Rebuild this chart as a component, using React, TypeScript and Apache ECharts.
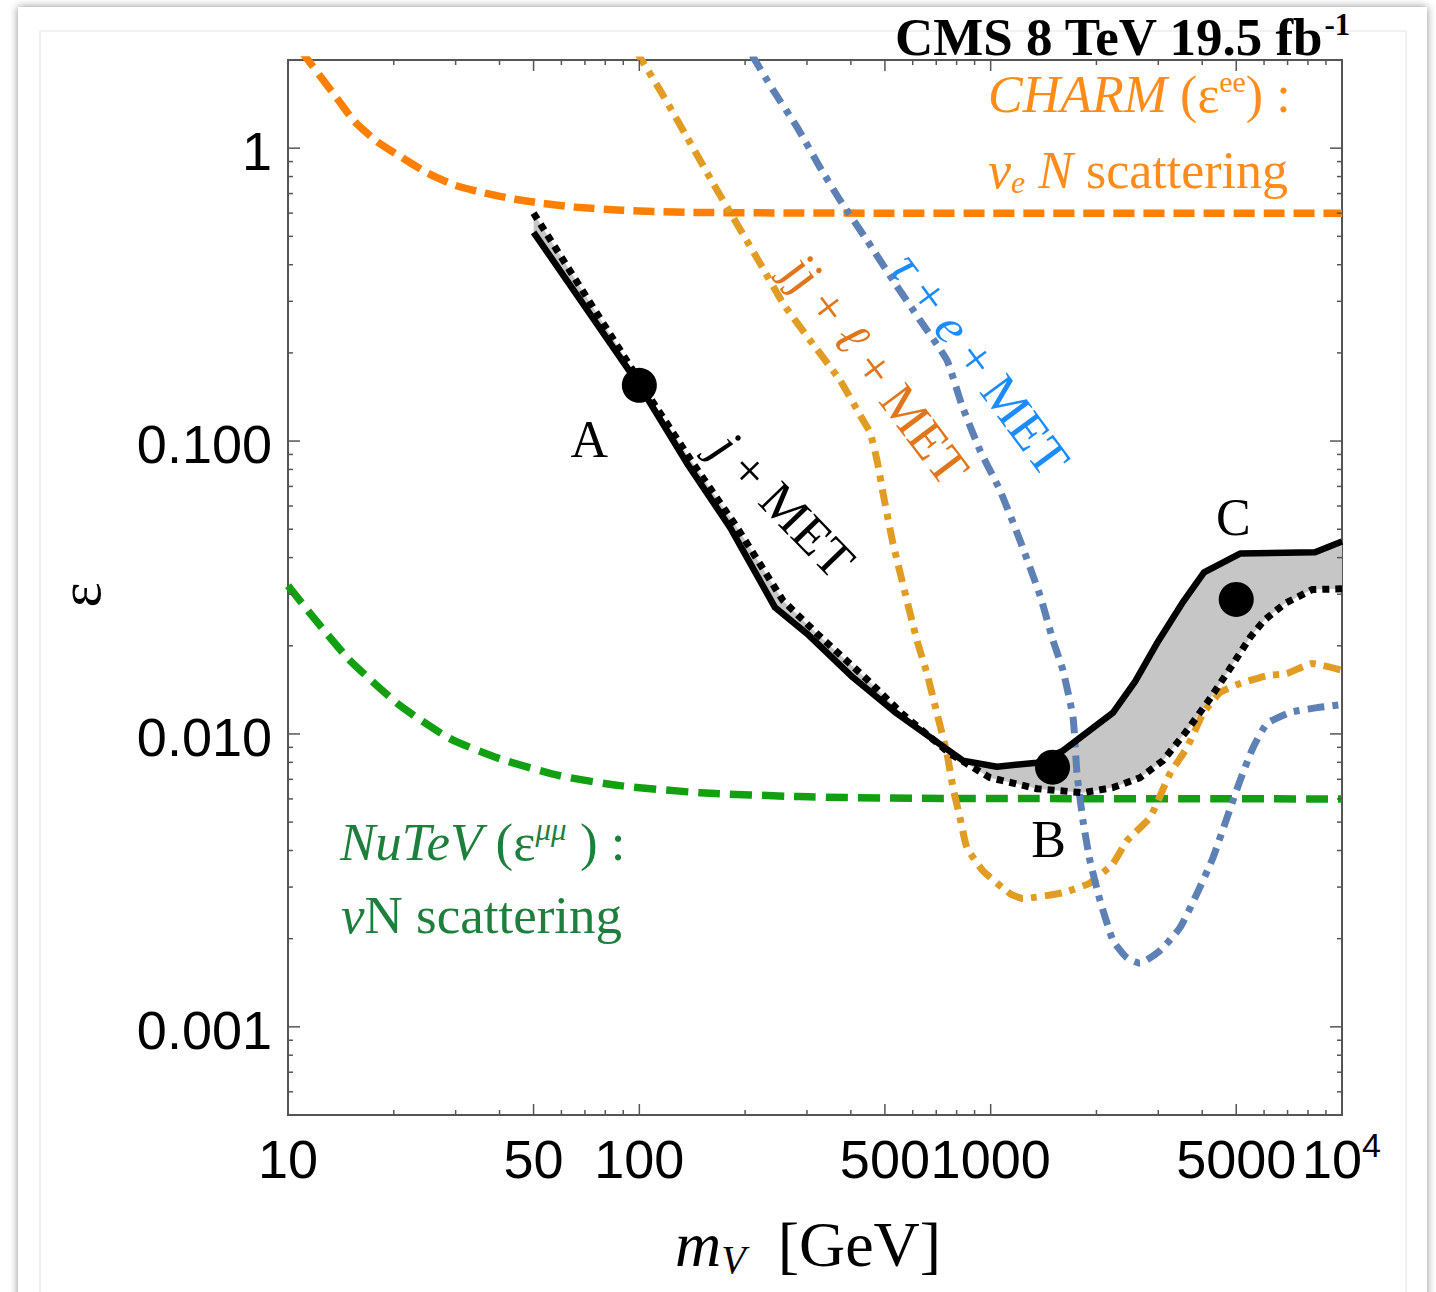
import React, { useEffect, useRef } from "react";
import * as echarts from "echarts";

// ---------------- data ----------------
const charmX = [10.85, 11.4, 12.4, 13.9, 15.5, 18.0, 21.0, 25.0, 29.9, 36.4, 44.3, 52.5, 65.6, 88.7, 135, 250, 500, 1000, 10000];
const charmY = [2.16, 2.0, 1.75, 1.46, 1.23, 1.05, 0.932, 0.821, 0.747, 0.702, 0.669, 0.649, 0.629, 0.614, 0.604, 0.601, 0.6, 0.6, 0.6];

const nutevX = [10, 12.33, 15.02, 20.84, 28.92, 40.12, 59.45, 88.1, 148.8, 286.6, 600, 10000];
const nutevY = [0.0321, 0.02346, 0.01781, 0.0125, 0.00964, 0.00823, 0.0072, 0.00666, 0.0063, 0.00611, 0.00603, 0.006];

const jMetUpperX = [50, 100, 136.7, 181.2, 243.4, 300.1, 405.8, 541.3, 834, 1042, 1355, 1607, 2230, 2576, 2995, 3505, 4048, 5125, 8379, 10000];
const jMetUpperY = [0.516, 0.155, 0.0839, 0.0507, 0.027, 0.022, 0.01558, 0.01173, 0.00811, 0.00773, 0.00798, 0.00877, 0.01183, 0.0151, 0.0207, 0.0279, 0.0356, 0.0413, 0.0417, 0.0454];

const jMetLowerX = [50, 109.4, 142.2, 189.7, 256.4, 320.3, 438.9, 559.3, 766, 995.7, 1355, 1831, 2230, 2661, 3094, 3621, 4210, 4800, 5472, 5998, 6881, 8215, 10000];
const jMetLowerY = [0.6, 0.1356, 0.0839, 0.0507, 0.02855, 0.022, 0.01558, 0.01173, 0.00857, 0.00709, 0.0065, 0.0063, 0.00656, 0.00709, 0.00811, 0.01027, 0.0132, 0.01672, 0.02134, 0.0244, 0.0279, 0.0311, 0.0313];

const jjX = [97.7, 102.4, 114.5, 136.7, 162.1, 184.8, 220.6, 256.4, 306.1, 372.6, 433.2, 453.6, 474.9, 494, 527.2, 617.1, 658.8, 703.6, 751, 781.2, 817.6, 856, 951, 1135, 1236, 1607, 1917, 2230, 2443, 2841, 3239, 3621, 4022, 4496, 5125, 6117, 6972, 8215, 10000];
const jjY = [2.16, 1.967, 1.578, 1.09, 0.759, 0.581, 0.4046, 0.2954, 0.2208, 0.1612, 0.1177, 0.1071, 0.0859, 0.0663, 0.0447, 0.02084, 0.01608, 0.01173, 0.00857, 0.00656, 0.00518, 0.00409, 0.00341, 0.00285, 0.00274, 0.00287, 0.0031, 0.00361, 0.00432, 0.00518, 0.00732, 0.00898, 0.01173, 0.01384, 0.01486, 0.01582, 0.01608, 0.0174, 0.0165];

const tauX = [209.3, 240.3, 281.1, 326.6, 372.6, 444.6, 527.2, 629.4, 751, 828.5, 932.5, 1063, 1212, 1382, 1505, 1607, 1716, 1761, 1831, 1917, 2048, 2230, 2443, 2661, 3034, 3459, 3866, 4293, 4707, 5125, 5581, 6117, 7112, 8489, 10000];
const tauY = [2.078, 1.578, 1.18, 0.861, 0.6643, 0.4849, 0.354, 0.2584, 0.1887, 0.1323, 0.0929, 0.0679, 0.0458, 0.0297, 0.02084, 0.01646, 0.01137, 0.00732, 0.00506, 0.00369, 0.0027, 0.00197, 0.00172, 0.00165, 0.00182, 0.00218, 0.00285, 0.00378, 0.00518, 0.00693, 0.00898, 0.01085, 0.01183, 0.0123, 0.0126];

const benchNames = ["A", "B", "C"];
const benchX = [100, 1500, 5000];
const benchY = [0.155, 0.0077, 0.0288];

const xTickValues = [10, 50, 100, 500, 1000, 5000];
const xTickLabels = ["10", "50", "100", "500", "1000", "5000"];
const xLastTick = 10000; // drawn as 10^4
const yTickValues = [1, 0.1, 0.01, 0.001];
const yTickLabels = ["1", "0.100", "0.010", "0.001"];

const xMajorTicks = [50, 100, 500, 1000, 5000];
const xMinorTicks = [20, 30, 40, 60, 70, 80, 90, 200, 300, 400, 600, 700, 800, 900, 2000, 3000, 4000, 6000, 7000, 8000, 9000];
const yMajorTicks = [0.001, 0.01, 0.1, 1];
const yMinorTicks = [
  0.0006, 0.0007, 0.0008, 0.0009,
  0.002, 0.003, 0.004, 0.005, 0.006, 0.007, 0.008, 0.009,
  0.02, 0.03, 0.04, 0.05, 0.06, 0.07, 0.08, 0.09,
  0.2, 0.3, 0.4, 0.5, 0.6, 0.7, 0.8, 0.9,
];

// ---------------- styling ----------------
const SERIF = "'Liberation Serif', 'Times New Roman', Times, serif";
const SANS = "'Liberation Sans', Arial, Helvetica, sans-serif";
const AXIS = "#555555";

const zip = (xs: number[], ys: number[]) => xs.map((x, i) => [x, ys[i]]);

const tok = (fill: string, o: any = {}) => ({
  fontFamily: SERIF,
  fontSize: 52,
  lineHeight: 56,
  fill,
  ...o,
});

export default function App() {
  const ref = useRef<HTMLDivElement>(null);

  useEffect(() => {
    if (!ref.current) return;
    const chart = echarts.init(ref.current, null, { renderer: "svg" });
    const upper = zip(jMetUpperX, jMetUpperY);
    const lower = zip(jMetLowerX, jMetLowerY);

    const lineSeries = (name: string, data: number[][], color: string, width: number, type: any, smooth: number | boolean, z: number) => ({
      name,
      type: "line",
      data,
      showSymbol: false,
      symbol: "none",
      smooth,
      clip: true,
      z,
      lineStyle: { color, width, type, cap: "butt", join: "round", opacity: 1 },
      silent: true,
    });

    const option: any = {
      animation: false,
      backgroundColor: "transparent",
      grid: {
        left: 288,
        top: 60,
        width: 1054,
        height: 1055,
        show: true,
        borderColor: AXIS,
        borderWidth: 2,
        backgroundColor: "transparent",
      },
      xAxis: {
        type: "log",
        logBase: 10,
        min: 10,
        max: 10000,
        axisLine: { show: false },
        axisTick: { show: false },
        axisLabel: { show: false },
        splitLine: { show: false },
      },
      yAxis: {
        type: "log",
        logBase: 10,
        min: 0.0005,
        max: 2,
        axisLine: { show: false },
        axisTick: { show: false },
        axisLabel: { show: false },
        splitLine: { show: false },
      },
      series: [
        {
          type: "custom",
          name: "band",
          clip: true,
          z: 1,
          silent: true,
          data: [[100, 0.1]],
          renderItem: (_p: any, api: any) => {
            const pts = upper.map((p) => api.coord(p)).concat(lower.slice().reverse().map((p) => api.coord(p)));
            return { type: "polygon", shape: { points: pts }, style: { fill: "#c6c6c6", stroke: "none" } };
          },
        },
        lineSeries("CHARM", zip(charmX, charmY), "#ff8000", 7.5, [21, 9], 0.2, 2),
        lineSeries("NuTeV", zip(nutevX, nutevY), "#12a012", 7.5, [22, 10], 0.2, 2),
        lineSeries("jj+l+MET", zip(jjX, jjY), "#e19c24", 7, [17, 8, 6, 8], 0.15, 3),
        lineSeries("tau+e+MET", zip(tauX, tauY), "#5e81b5", 7, [17, 8, 6, 8], 0.15, 3),
        lineSeries("j+MET upper", upper, "#000000", 6.5, "solid", false, 4),
        lineSeries("j+MET lower", lower, "#000000", 7, [7, 6], false, 4),
        {
          type: "scatter",
          name: "benchmarks",
          z: 6,
          silent: true,
          symbol: "circle",
          symbolSize: 35,
          itemStyle: { color: "#000000", opacity: 1 },
          data: benchX.map((x, i) => ({
            value: [x, benchY[i]],
            label: {
              show: true,
              formatter: benchNames[i],
              position: "inside",
              offset: [[-50, 54], [-4, 72], [-3, -82]][i],
              fontFamily: SERIF,
              fontSize: 52,
              color: "#000",
            },
          })),
        },
        {
          type: "custom",
          name: "frameTicks",
          clip: false,
          z: 7,
          silent: true,
          data: [[100, 0.1]],
          renderItem: (params: any, api: any) => {
            const cs = params.coordSys;
            const L = cs.x, T = cs.y, R = cs.x + cs.width, B = cs.y + cs.height;
            const st = { stroke: AXIS, lineWidth: 1.5 };
            const ch: any[] = [];
            const majorLen = 11, minorLen = 5;
            const xt = (v: number, len: number) => {
              const px = api.coord([v, 0.1])[0];
              ch.push({ type: "line", shape: { x1: px, y1: B, x2: px, y2: B - len }, style: st });
              ch.push({ type: "line", shape: { x1: px, y1: T, x2: px, y2: T + len }, style: st });
            };
            const yt = (v: number, len: number) => {
              const py = api.coord([100, v])[1];
              ch.push({ type: "line", shape: { x1: L, y1: py, x2: L + len, y2: py }, style: st });
              ch.push({ type: "line", shape: { x1: R, y1: py, x2: R - len, y2: py }, style: st });
            };
            xMajorTicks.forEach((v) => xt(v, majorLen));
            xMinorTicks.forEach((v) => xt(v, minorLen));
            yMajorTicks.forEach((v) => yt(v, majorLen + 1));
            yMinorTicks.forEach((v) => yt(v, minorLen));
            const lab = (text: string, x: number, y: number, align: string, size = 54) => ({
              type: "text",
              style: {
                text, x, y,
                fill: "#000",
                fontFamily: SANS,
                fontSize: size,
                align, textAlign: align,
                verticalAlign: "middle", textVerticalAlign: "middle",
              },
            });
            xTickValues.forEach((v, i) => {
              const px = api.coord([v, 0.1])[0];
              ch.push(lab(xTickLabels[i], px, B + 44, "center"));
            });
            const pxLast = api.coord([xLastTick, 0.1])[0];
            ch.push(lab("10", pxLast + 20, B + 44, "right"));
            ch.push(lab("4", pxLast + 20, B + 30, "left", 34));
            yTickValues.forEach((v, i) => {
              const py = api.coord([100, v])[1];
              ch.push(lab(yTickLabels[i], L - 16, py + 3, "right"));
            });
            return { type: "group", children: ch };
          },
        },
      ],
      graphic: {
        elements: [
          {
            type: "rect",
            z: -100,
            shape: { x: 18, y: 7, width: 1409, height: 1310 },
            style: { fill: "#ffffff", shadowBlur: 9, shadowColor: "rgba(0,0,0,0.45)", shadowOffsetX: 0, shadowOffsetY: 0 },
            silent: true,
          },
          {
            type: "rect",
            z: -99,
            shape: { x: 40, y: 31, width: 1366, height: 1300 },
            style: { fill: "none", stroke: "#ededed", lineWidth: 1.5 },
            silent: true,
          },
          // title
          {
            type: "text",
            x: 895,
            y: 37,
            z: 100,
            style: {
              text: "{b|CMS 8 TeV 19.5 fb}{s|-1}",
              align: "left", verticalAlign: "middle",
              rich: {
                b: { fontFamily: SERIF, fontWeight: "bold", fontSize: 53, lineHeight: 56, fill: "#000" },
                s: { fontFamily: SERIF, fontWeight: "bold", fontSize: 31, lineHeight: 42, verticalAlign: "top", fill: "#000" },
              },
            },
          },
          // CHARM label
          {
            type: "text",
            x: 988,
            y: 94,
            z: 100,
            style: {
              text: "{i|CHARM}{n| (ε}{s|ee}{n|) :}",
              align: "left", verticalAlign: "middle",
              rich: {
                i: tok("#ff8c1a", { fontStyle: "italic" }),
                n: tok("#ff8c1a"),
                s: tok("#ff8c1a", { fontSize: 30, lineHeight: 28, verticalAlign: "top" }),
              },
            },
          },
          {
            type: "text",
            x: 988,
            y: 170,
            z: 100,
            style: {
              text: "{i|ν}{sb|e}{i| N}{n| scattering}",
              align: "left", verticalAlign: "middle",
              rich: {
                i: tok("#ff8c1a", { fontStyle: "italic" }),
                n: tok("#ff8c1a"),
                sb: tok("#ff8c1a", { fontStyle: "italic", fontSize: 32, lineHeight: 28, verticalAlign: "bottom" }),
              },
            },
          },
          // NuTeV label
          {
            type: "text",
            x: 340,
            y: 842,
            z: 100,
            style: {
              text: "{i|NuTeV}{n| (ε}{s|μμ}{n| ) :}",
              align: "left", verticalAlign: "middle",
              rich: {
                i: tok("#1e7f3c", { fontStyle: "italic", fontSize: 53 }),
                n: tok("#1e7f3c", { fontSize: 53 }),
                s: tok("#1e7f3c", { fontStyle: "italic", fontSize: 31, lineHeight: 28, verticalAlign: "top" }),
              },
            },
          },
          {
            type: "text",
            x: 341,
            y: 915,
            z: 100,
            style: {
              text: "{i|ν}{n|N scattering}",
              align: "left", verticalAlign: "middle",
              rich: {
                i: tok("#1e7f3c", { fontStyle: "italic", fontSize: 53 }),
                n: tok("#1e7f3c", { fontSize: 53 }),
              },
            },
          },
          // curve labels
          {
            type: "text",
            x: 783,
            y: 505,
            z: 100,
            rotation: (-46 * Math.PI) / 180,
            style: {
              text: "{i|j}{n| + MET}",
              align: "center", verticalAlign: "middle",
              rich: { i: tok("#000", { fontStyle: "italic" }), n: tok("#000") },
            },
          },
          {
            type: "text",
            x: 876,
            y: 370,
            z: 100,
            rotation: (-53 * Math.PI) / 180,
            style: {
              text: "{n|jj + }{i|ℓ}{n| + MET}",
              align: "center", verticalAlign: "middle",
              rich: { i: tok("#e0761c", { fontStyle: "italic" }), n: tok("#e0761c") },
            },
          },
          {
            type: "text",
            x: 980,
            y: 364,
            z: 100,
            rotation: (-53.5 * Math.PI) / 180,
            style: {
              text: "{i|τ}{n| + }{i|e}{n| + MET}",
              align: "center", verticalAlign: "middle",
              rich: { i: tok("#1a8cff", { fontStyle: "italic" }), n: tok("#1a8cff") },
            },
          },
          // axis titles
          {
            type: "text",
            x: 80,
            y: 595,
            z: 100,
            rotation: Math.PI / 2,
            style: {
              text: "ε",
              fontFamily: SERIF,
              fontSize: 60,
              fill: "#000",
              align: "center", verticalAlign: "middle",
            },
          },
          {
            type: "text",
            x: 675,
            y: 1244,
            z: 100,
            style: {
              text: "{m|m}{v|V}{n|  [GeV]}",
              align: "left", verticalAlign: "middle",
              rich: {
                m: { fontFamily: SERIF, fontStyle: "italic", fontSize: 64, lineHeight: 70, fill: "#000" },
                v: { fontFamily: SERIF, fontStyle: "italic", fontSize: 40, lineHeight: 36, verticalAlign: "bottom", fill: "#000" },
                n: { fontFamily: SERIF, fontSize: 64, lineHeight: 70, fill: "#000" },
              },
            },
          },
        ],
      },
    };

    chart.setOption(option);
    return () => chart.dispose();
  }, []);

  return (
    <div
      ref={ref}
      style={{ position: "absolute", left: 0, top: 0, width: 1436, height: 1292, background: "#ffffff" }}
    />
  );
}
